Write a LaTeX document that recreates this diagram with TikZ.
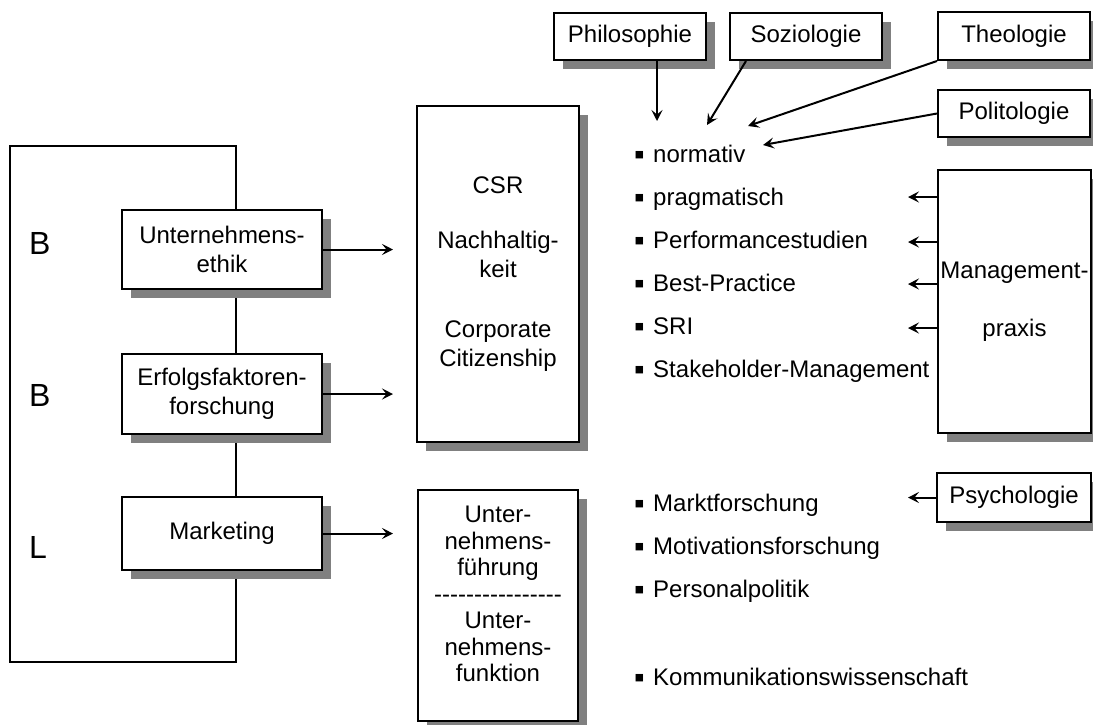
\documentclass[tikz,border=0pt]{standalone}
\usepackage{fontspec}
\setmainfont{Liberation Sans}
\usetikzlibrary{shadows,arrows.meta,backgrounds,calc}

\begin{document}
\begin{tikzpicture}[x=1pt,y=-1pt,font=\fontsize{24}{29}\selectfont]

        \useasboundingbox (0,0) rectangle (1093,724);

        \tikzstyle{kasten}=[draw,line width=2pt,fill=white,inner sep=0pt,align=center,
            drop shadow={shadow xshift=9pt,shadow yshift=-9pt,fill=black!50,opacity=1}]
        \tikzstyle{pfeil}=[line width=2pt,-{Stealth[length=11pt,width=11pt,inset=4.5pt]}]
        \tikzstyle{punkt}=[anchor=base west,inner sep=0pt]
        \tikzstyle{buchstabe}=[anchor=west,inner sep=0pt,font=\fontsize{32}{36}\selectfont]
        \newcommand{\qpunkt}{\raisebox{-2.5pt}{\scalebox{1.25}{▪}}\hspace{0.35em}}

        %% Linke Spalte
        \node [buchstabe] (b1) at (29,243.5) {B};
        \node [buchstabe] (b2) at (29,395) {B};
        \node [buchstabe] (l1) at (29,547) {L};

        \node [kasten,minimum width=200pt,minimum height=79pt] (ethik) at (222,249.5) {Unternehmens-\\ethik};
        \node [kasten,minimum width=200pt,minimum height=80pt] (erfolg) at (222,394) {Erfolgsfaktoren-\\forschung};
        \node [kasten,minimum width=200pt,minimum height=73pt] (marketing) at (222,533.5) {Marketing};

        %% Mitte
        \node [kasten,minimum width=162pt,minimum height=336pt] (csr) at (498,274)
            {CSR\\[26pt]Nachhaltig-\\keit\\[31pt]Corporate\\Citizenship};
        \node [kasten,minimum width=160pt,minimum height=231pt] (fuehrung) at (498,605.5) {};
        \node [align=center,inner sep=0pt,font=\fontsize{24}{26.5}\selectfont] (fuehrungtext) at (498,594)
            {Unter-\\nehmens-\\führung\\\foreach \i in {1,...,16}{-\kern0pt}\\Unter-\\nehmens-\\funktion};

        %% Disziplinen oben und rechts
        \node [kasten,minimum width=152pt,minimum height=47pt] (philo) at (630,36.5) {Philosophie};
        \node [kasten,minimum width=152pt,minimum height=47pt] (sozio) at (806,36.5) {Soziologie};
        \node [kasten,minimum width=152pt,minimum height=48pt] (theo) at (1014,36) {Theologie};
        \node [kasten,minimum width=152pt,minimum height=47pt] (polito) at (1014,113.5) {Politologie};
        \node [kasten,minimum width=153pt,minimum height=263pt] (mgmt) at (1014.5,301.5) {Management-\\[29pt]praxis};
        \node [kasten,minimum width=154pt,minimum height=49pt] (psych) at (1014,497.5) {Psychologie};

        %% Aufzaehlung
        \node [punkt] (normativ) at (634,162) {\qpunkt normativ};
        \node [punkt] (pragmatisch) at (634,205) {\qpunkt pragmatisch};
        \node [punkt] (performance) at (634,248) {\qpunkt Performancestudien};
        \node [punkt] (bestpractice) at (634,291) {\qpunkt Best-Practice};
        \node [punkt] (sri) at (634,334) {\qpunkt SRI};
        \node [punkt] (stakeholder) at (634,377) {\qpunkt Stakeholder-Management};
        \node [punkt] (markt) at (634,511) {\qpunkt Marktforschung};
        \node [punkt] (motivation) at (634,554) {\qpunkt Motivationsforschung};
        \node [punkt] (personal) at (634,597) {\qpunkt Personalpolitik};
        \node [punkt] (kommunikation) at (634,685) {\qpunkt Kommunikationswissenschaft};

        %% Pfeile
        \coordinate (e1) at (393,249.5);
        \coordinate (e2) at (393,394);
        \coordinate (e3) at (393,533.5);
        \draw [pfeil] (ethik.east) -- (e1);
        \draw [pfeil] (erfolg.east) -- (e2);
        \draw [pfeil] (marketing.east) -- (e3);

        \coordinate (n1) at (657,121);
        \coordinate (n2) at (707,125);
        \coordinate (n3) at (748,126);
        \coordinate (n4) at (763,145);
        \draw [pfeil] (n1 |- philo.south) -- (n1);
        \draw [pfeil] ($(sozio.south west)+(17,0)$) -- (n2);
        \draw [pfeil] (theo.south west) -- (n3);
        \draw [pfeil] (polito.west) -- (n4);

        \coordinate (m1) at (908,197);
        \coordinate (m2) at (908,242);
        \coordinate (m3) at (908,284);
        \coordinate (m4) at (908,328);
        \coordinate (m5) at (908,497.5);
        \draw [pfeil] (mgmt.west |- m1) -- (m1);
        \draw [pfeil] (mgmt.west |- m2) -- (m2);
        \draw [pfeil] (mgmt.west |- m3) -- (m3);
        \draw [pfeil] (mgmt.west |- m4) -- (m4);
        \draw [pfeil] (psych.west) -- (m5);

        %% Klammer links
        \coordinate (kro) at (236,146);
        \coordinate (klo) at (10,146);
        \coordinate (klu) at (10,662);
        \coordinate (kru) at (236,662);
        \begin{scope}[on background layer]
            \draw [line width=2pt] (ethik.north -| kro) -- (kro) -- (klo) -- (klu) -- (kru) -- (marketing.south -| kru);
            \draw [line width=2pt] (ethik.south -| kro) -- (erfolg.north -| kro);
            \draw [line width=2pt] (erfolg.south -| kro) -- (marketing.north -| kro);
        \end{scope}

\end{tikzpicture}
\end{document}
